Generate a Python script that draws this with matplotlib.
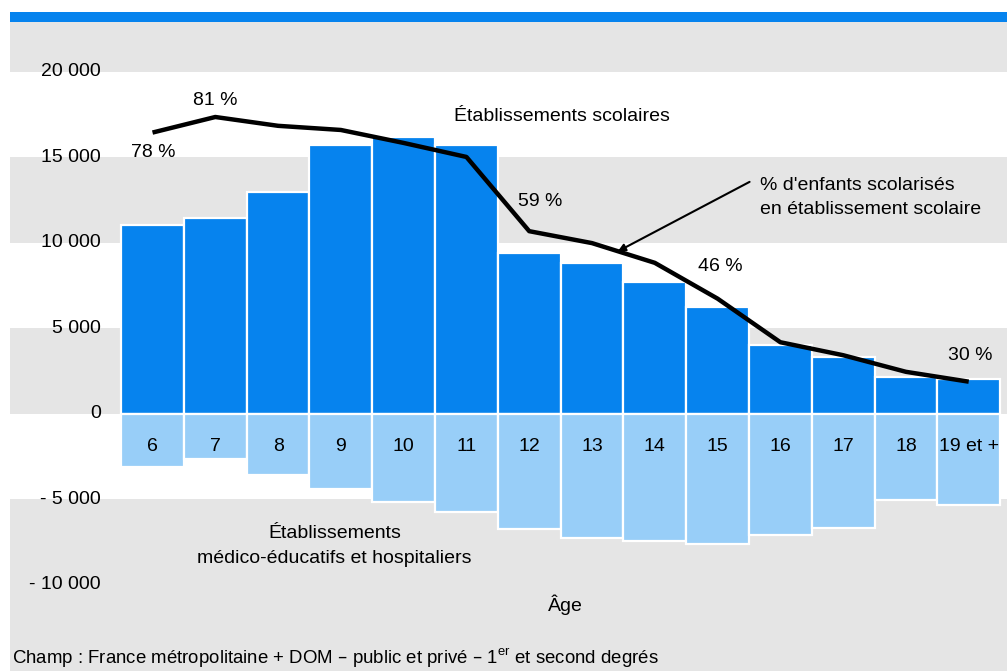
import matplotlib
matplotlib.use("Agg")
import matplotlib.pyplot as plt
from matplotlib import font_manager
from matplotlib.transforms import blended_transform_factory

# effectifs par âge (nombre d'enfants handicapés scolarisés)
ages = ["6", "7", "8", "9", "10", "11", "12", "13", "14", "15", "16", "17", "18", "19 et +"]
scolaires = [11050, 11460, 12980, 15730, 16200, 15730, 9430, 8830, 7740, 6250, 4030, 3330, 2160, 2050]
medico = [-3100, -2630, -3570, -4400, -5160, -5750, -6750, -7230, -7410, -7580, -7080, -6670, -5030, -5320]
# % d'enfants scolarisés en établissement scolaire
pct = [78, 81, 79.3, 78.5, 76, 73.3, 59, 56.7, 52.9, 46, 37.6, 35.1, 31.9, 30]
pct_labelled = {0: "78 %", 1: "81 %", 6: "59 %", 9: "46 %", 13: "30 %"}

yticks = [20000, 15000, 10000, 5000, 0, -5000, -10000]
ytick_labels = ["20 000", "15 000", "10 000", "5 000", "0", "- 5 000", "- 10 000"]

names = {f.name for f in font_manager.fontManager.ttflist}
narrow = "Liberation Sans Narrow" if "Liberation Sans Narrow" in names else "Liberation Sans"
plt.rcParams["font.family"] = [narrow, "DejaVu Sans"]

BLUE = "#0683ee"
LIGHT = "#98cef8"
GREY = "#e5e5e5"

W, H = 1007, 671
fig = plt.figure(figsize=(W / 100, H / 100), dpi=100)
fig.patch.set_facecolor("white")

# bandeau bleu en haut
fig.add_artist(plt.Rectangle((10 / W, 1 - 22 / H), 1 - 10 / W, 10 / H,
                             transform=fig.transFigure, color=BLUE, lw=0))

ax = fig.add_axes([10 / W, 0, 1 - 10 / W, 1 - 22 / H])
ymin, ymax = -15030, 22924
ax.set_ylim(ymin, ymax)
ax.set_xlim(-2.27, 13.61)
ax.set_axis_off()

# bandes grises
for lo, hi in [(20000, ymax), (10000, 15000), (0, 5000), (ymin, -5000)]:
    ax.axhspan(lo, hi, color=GREY, lw=0, zorder=0)

x = list(range(len(ages)))
ax.bar(x, scolaires, width=1.0, color=BLUE, edgecolor="white", lw=1.6, zorder=2)
ax.bar(x, medico, width=1.0, color=LIGHT, edgecolor="white", lw=1.6, zorder=2)

for xi, lab in zip(x, ages):
    ax.text(xi, -1930, lab, ha="center", va="center", fontsize=14, zorder=4)

trans = blended_transform_factory(fig.transFigure, ax.transData)
for v, lab in zip(yticks, ytick_labels):
    ax.text(101 / W, v, lab, transform=trans, ha="right", va="center", fontsize=14)

# courbe du taux de scolarisation en établissement scolaire
ax2 = ax.twinx()
ax2.set_axis_off()
ax2.set_ylim((ymin + 7215) / 303.5, (ymax + 7215) / 303.5)
ax2.plot(x, pct, color="black", lw=3.2, solid_capstyle="butt",
         solid_joinstyle="round", zorder=5)

label_pos = {0: (0.01, 74.2), 1: (0.995, 84.1), 6: (6.17, 64.8), 9: (9.04, 52.1), 13: (13.02, 35.1)}
for i, lab in pct_labelled.items():
    lx, ly = label_pos[i]
    ax2.text(lx, ly, lab, ha="center", va="center", fontsize=14)

ax2.annotate("", xy=(7.41, 55.1), xytext=(9.51, 68.5),
             arrowprops=dict(arrowstyle="-|>", color="black", lw=1.5,
                             mutation_scale=11, shrinkA=0, shrinkB=0))
ax2.text(9.67, 65.5, "% d'enfants scolarisés\nen établissement scolaire",
         ha="left", va="center", fontsize=14, linespacing=1.5)

ax.text(6.52, 17370, "Établissements scolaires", ha="center", va="center", fontsize=14)
ax.text(2.9, -7720, "Établissements\nmédico-éducatifs et hospitaliers",
        ha="center", va="center", fontsize=14, linespacing=1.65)
ax.text(6.57, -11170, "Âge", ha="center", va="center", fontsize=14)

fig.text(12 / W, 1 - 658 / H,
         "Champ : France métropolitaine + DOM – public et privé – 1$^{\\mathregular{er}}$ et second degrés",
         ha="left", va="center", fontsize=13.4)

fig.savefig("out.png", dpi=100)
